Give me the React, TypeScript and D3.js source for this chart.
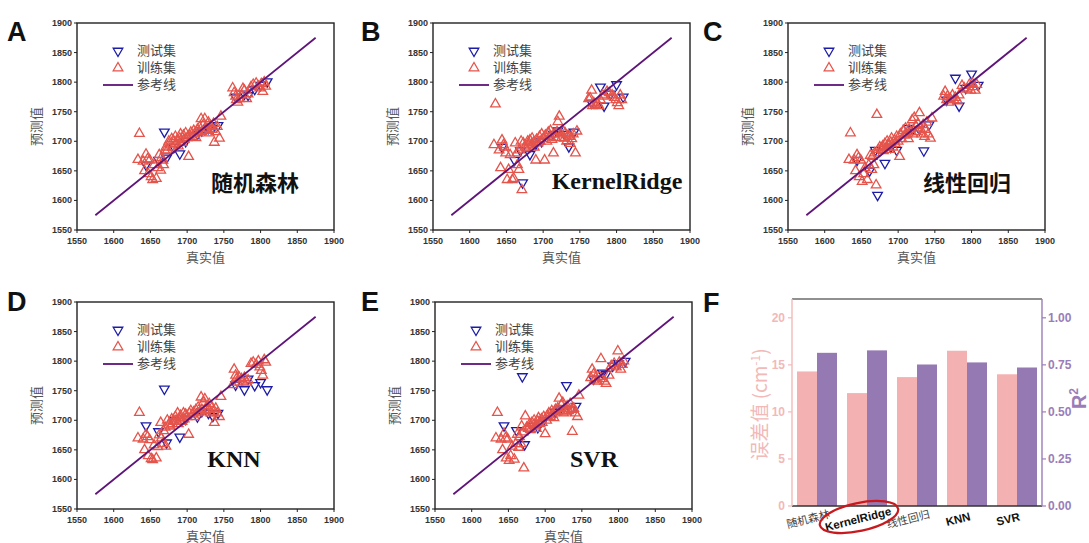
import React from "react";
import * as d3 from "d3";

// ---------- DATA ----------
const trueTrain = [
  1633, 1635, 1640, 1642, 1644, 1646, 1647, 1649, 1651, 1653, 1655, 1658, 1660, 1662, 1664, 1665, 1667, 1668, 1670, 1671, 1673, 1675,
  1677, 1679, 1680, 1682, 1684, 1685, 1687, 1688, 1690, 1691, 1693, 1695, 1696, 1698, 1700, 1702, 1703, 1705, 1707, 1709, 1710, 1712,
  1714, 1715, 1717, 1719, 1720, 1722, 1724, 1725, 1727, 1729, 1730, 1732, 1734, 1736, 1737, 1739, 1741, 1744, 1746,
  1762, 1764, 1766, 1767, 1769, 1771, 1774, 1776, 1778, 1781, 1783, 1787, 1790, 1794, 1797, 1799, 1801, 1803, 1805, 1807,
];
const trainPredRF = [
  1669, 1713, 1666, 1650, 1678, 1670, 1645, 1668, 1640, 1635, 1660, 1637, 1655, 1677, 1651, 1672, 1668, 1660, 1684, 1690, 1685, 1700,
  1695, 1704, 1690, 1700, 1708, 1696, 1702, 1692, 1705, 1712, 1698, 1710, 1703, 1714, 1706, 1674, 1710, 1715, 1708, 1718, 1712, 1706,
  1720, 1714, 1724, 1738, 1716, 1728, 1738, 1718, 1722, 1732, 1714, 1726, 1720, 1730, 1698, 1716, 1725, 1705, 1742,
  1790, 1782, 1776, 1770, 1766, 1772, 1778, 1789, 1786, 1772, 1780, 1792, 1796, 1798, 1793, 1790, 1797, 1784, 1800, 1793,
];
const trainPredKR = [
  1694, 1763, 1685, 1655, 1702, 1694, 1690, 1680, 1635, 1652, 1677, 1635, 1637, 1697, 1680, 1660, 1652, 1685, 1700, 1618, 1697, 1690,
  1688, 1700, 1693, 1702, 1695, 1705, 1698, 1690, 1668, 1703, 1697, 1708, 1700, 1712, 1704, 1668, 1710, 1700, 1715, 1708, 1718, 1703,
  1680, 1712, 1706, 1716, 1733, 1742, 1712, 1706, 1718, 1705, 1714, 1700, 1710, 1708, 1696, 1704, 1712, 1680, 1717,
  1772, 1773, 1786, 1760, 1765, 1762, 1764, 1760, 1770, 1778, 1776, 1784, 1782, 1778, 1774, 1770, 1765, 1760, 1778, 1770,
];
const trainPredLR = [
  1669, 1714, 1668, 1650, 1677, 1672, 1640, 1668, 1632, 1645, 1655, 1635, 1660, 1676, 1652, 1674, 1660, 1680, 1626, 1745, 1686, 1690,
  1688, 1692, 1684, 1696, 1690, 1700, 1694, 1686, 1698, 1705, 1690, 1702, 1696, 1708, 1700, 1674, 1712, 1704, 1718, 1710, 1722, 1712,
  1704, 1720, 1716, 1736, 1712, 1740, 1726, 1716, 1730, 1748, 1722, 1712, 1728, 1708, 1720, 1732, 1712, 1705, 1739,
  1776, 1784, 1770, 1776, 1766, 1772, 1778, 1770, 1774, 1768, 1778, 1794, 1790, 1788, 1796, 1786, 1798, 1792, 1786, 1796,
];
const trainPredKNN = [
  1670, 1713, 1668, 1650, 1676, 1672, 1640, 1667, 1635, 1633, 1658, 1636, 1655, 1675, 1696, 1670, 1660, 1682, 1688, 1656, 1700, 1692,
  1690, 1702, 1694, 1698, 1706, 1700, 1712, 1694, 1704, 1708, 1698, 1712, 1702, 1710, 1706, 1676, 1712, 1716, 1710, 1714, 1706, 1718,
  1712, 1722, 1714, 1739, 1718, 1730, 1736, 1716, 1724, 1718, 1728, 1712, 1722, 1714, 1696, 1720, 1712, 1706, 1740,
  1760, 1786, 1776, 1770, 1764, 1772, 1770, 1766, 1772, 1764, 1768, 1796, 1798, 1794, 1800, 1790, 1784, 1776, 1802, 1798,
];
const trainPredSVR = [
  1670, 1713, 1668, 1650, 1678, 1670, 1636, 1668, 1632, 1640, 1656, 1634, 1660, 1676, 1654, 1672, 1660, 1690, 1680, 1619, 1707, 1688,
  1686, 1694, 1684, 1696, 1692, 1700, 1690, 1686, 1698, 1704, 1694, 1702, 1696, 1706, 1677, 1700, 1708, 1712, 1706, 1716, 1710, 1704,
  1718, 1714, 1720, 1737, 1716, 1726, 1730, 1712, 1720, 1714, 1724, 1716, 1728, 1718, 1681, 1720, 1712, 1706, 1742,
  1772, 1786, 1778, 1768, 1772, 1766, 1774, 1804, 1770, 1766, 1762, 1776, 1792, 1796, 1790, 1817, 1798, 1786, 1794, 1800,
];

const trueTest = [1644, 1661, 1669, 1672, 1682, 1690, 1698, 1714, 1720, 1729, 1735, 1742, 1766, 1778, 1783, 1792, 1800, 1809];
const testPredRF = [1660, 1668, 1716, 1672, 1690, 1679, 1700, 1712, 1718, 1722, 1722, 1727, 1775, 1780, 1778, 1788, 1795, 1801];
const testPredKR = [1690, 1668, 1684, 1630, 1678, 1695, 1700, 1712, 1718, 1712, 1691, 1716, 1765, 1792, 1760, 1780, 1796, 1775];
const testPredLR = [1668, 1650, 1685, 1609, 1663, 1690, 1685, 1722, 1720, 1720, 1684, 1728, 1770, 1807, 1760, 1790, 1814, 1795];
const testPredKNN = [1691, 1681, 1753, 1662, 1700, 1672, 1702, 1706, 1715, 1712, 1707, 1712, 1760, 1752, 1770, 1759, 1764, 1752];
const testPredSVR = [1691, 1683, 1774, 1659, 1690, 1688, 1700, 1714, 1718, 1759, 1718, 1724, 1770, 1780, 1778, 1792, 1796, 1800];

const axisTicks = [1550, 1600, 1650, 1700, 1750, 1800, 1850, 1900];
const refLine = [1575, 1875];
const legendLabels = ["测试集", "训练集", "参考线"];

const barCategories = ["随机森林", "KernelRidge", "线性回归", "KNN", "SVR"];
const errorValues = [14.3, 12.0, 13.7, 16.5, 14.0];
const r2Values = [0.814, 0.827, 0.752, 0.763, 0.736];
const errorTicks = [0, 5, 10, 15, 20];
const r2Ticks = [0, 0.25, 0.5, 0.75, 1.0];

// ---------- STYLE ----------
const TRAIN_COLOR = "#E5544B";
const TEST_COLOR = "#1C1CA8";
const LINE_COLOR = "#5E1478";
const PINK = "#F4B1B1";
const PURPLE = "#9579B3";
const PINK_TEXT = "#F2B9B9";
const PURPLE_TEXT = "#9A7DB8";
const CJK = "'Noto Sans CJK SC', sans-serif";
const SANS = "'Liberation Sans', Arial, sans-serif";
const SERIF = "'Liberation Serif', 'Times New Roman', serif";

type PanelProps = {
  x0: number; x1: number; y0: number; y1: number;
  letter: string; letterX: number; letterY: number;
  label: string; labelFont: string; labelDx: number; labelDy: number;
  trainPred: number[]; testPred: number[];
};

const triUp = d3.symbol(d3.symbolTriangle, 40)() as string;

function ScatterPanel(p: PanelProps) {
  const xs = d3.scaleLinear().domain([1550, 1900]).range([p.x0, p.x1]);
  const ys = d3.scaleLinear().domain([1550, 1900]).range([p.y1, p.y0]);
  const w = p.x1 - p.x0;
  const h = p.y1 - p.y0;
  return (
    <g>
      <text x={p.letterX} y={p.letterY} fontFamily={SANS} fontWeight="bold" fontSize={27} fill="#111">{p.letter}</text>
      {trueTest.map((t, i) => (
        <path key={"te" + i} d={triUp} transform={`translate(${xs(t)},${ys(p.testPred[i])}) rotate(180)`}
          fill="none" stroke={TEST_COLOR} strokeWidth={1.3} />
      ))}
      {trueTrain.map((t, i) => (
        <path key={"tr" + i} d={triUp} transform={`translate(${xs(t)},${ys(p.trainPred[i])})`}
          fill="none" stroke={TRAIN_COLOR} strokeWidth={1.3} />
      ))}
      <line x1={xs(refLine[0])} y1={ys(refLine[0])} x2={xs(refLine[1])} y2={ys(refLine[1])} stroke={LINE_COLOR} strokeWidth={1.8} />
      <rect x={p.x0} y={p.y0} width={w} height={h} fill="none" stroke="#222" strokeWidth={1.4} />
      {axisTicks.map((t) => (
        <g key={"xt" + t}>
          <line x1={xs(t)} x2={xs(t)} y1={p.y1} y2={p.y1 + 3} stroke="#222" strokeWidth={1} />
          <text x={xs(t)} y={p.y1 + 14} textAnchor="middle" fontFamily={SANS} fontWeight="bold" fontSize={9} fill="#333">{t}</text>
          <line x1={p.x0 - 3} x2={p.x0} y1={ys(t)} y2={ys(t)} stroke="#222" strokeWidth={1} />
          <text x={p.x0 - 5} y={ys(t) + 3} textAnchor="end" fontFamily={SANS} fontWeight="bold" fontSize={9} fill="#333">{t}</text>
        </g>
      ))}
      <text x={(p.x0 + p.x1) / 2} y={p.y1 + 32} textAnchor="middle" fontFamily={CJK} fontSize={13} fill="#555">真实值</text>
      <text transform={`translate(${p.x0 - 36},${(p.y0 + p.y1) / 2}) rotate(-90)`} textAnchor="middle" fontFamily={CJK} fontSize={13} fill="#555">预测值</text>
      <path d={triUp} transform={`translate(${p.x0 + 41},${p.y0 + 28}) rotate(180)`} fill="none" stroke={TEST_COLOR} strokeWidth={1.3} />
      <text x={p.x0 + 60} y={p.y0 + 32} fontFamily={CJK} fontSize={13} fill="#444">{legendLabels[0]}</text>
      <path d={triUp} transform={`translate(${p.x0 + 41},${p.y0 + 45})`} fill="none" stroke={TRAIN_COLOR} strokeWidth={1.3} />
      <text x={p.x0 + 60} y={p.y0 + 49} fontFamily={CJK} fontSize={13} fill="#444">{legendLabels[1]}</text>
      <line x1={p.x0 + 26} x2={p.x0 + 56} y1={p.y0 + 62} y2={p.y0 + 62} stroke={LINE_COLOR} strokeWidth={1.8} />
      <text x={p.x0 + 60} y={p.y0 + 66} fontFamily={CJK} fontSize={13} fill="#444">{legendLabels[2]}</text>
      <text x={p.x0 + p.labelDx} y={p.y0 + p.labelDy} textAnchor="middle" fontFamily={p.labelFont}
        fontWeight="bold" fontSize={p.labelFont === CJK ? 22 : 24} fill="#111">{p.label}</text>
    </g>
  );
}

function BarPanel() {
  const x0 = 792, x1 = 1042, y0 = 299, y1 = 506;
  const xb = d3.scaleBand<string>().domain(barCategories).range([x0, x1]).paddingInner(0.2).paddingOuter(0.1);
  const yl = d3.scaleLinear().domain([0, 22]).range([y1, y0]);
  const yr = d3.scaleLinear().domain([0, 1.1]).range([y1, y0]);
  const bw = xb.bandwidth() / 2;
  const krx = xb("KernelRidge")! + xb.bandwidth() / 2 - 8;
  return (
    <g>
      <text x={703} y={312} fontFamily={SANS} fontWeight="bold" fontSize={27} fill="#111">F</text>
      {barCategories.map((c, i) => (
        <g key={c}>
          <rect x={xb(c)!} y={yl(errorValues[i])} width={bw} height={y1 - yl(errorValues[i])} fill={PINK} />
          <rect x={xb(c)! + bw} y={yr(r2Values[i])} width={bw} height={y1 - yr(r2Values[i])} fill={PURPLE} />
        </g>
      ))}
      <line x1={x0} x2={x1} y1={y0} y2={y0} stroke="#222" strokeWidth={1.2} />
      <line x1={x0} x2={x1} y1={y1} y2={y1} stroke="#333" strokeWidth={1.4} />
      <line x1={x0} x2={x0} y1={y0} y2={y1} stroke={PINK_TEXT} strokeWidth={1.4} />
      <line x1={x1} x2={x1} y1={y0} y2={y1} stroke={PURPLE_TEXT} strokeWidth={1.4} />
      {errorTicks.map((t) => (
        <g key={"el" + t}>
          <line x1={x0 - 4} x2={x0} y1={yl(t)} y2={yl(t)} stroke={PINK_TEXT} strokeWidth={1.2} />
          <text x={x0 - 7} y={yl(t) + 4} textAnchor="end" fontFamily={SANS} fontWeight="bold" fontSize={12} fill={PINK_TEXT}>{t}</text>
        </g>
      ))}
      {r2Ticks.map((t) => (
        <g key={"rt" + t}>
          <line x1={x1} x2={x1 + 4} y1={yr(t)} y2={yr(t)} stroke={PURPLE_TEXT} strokeWidth={1.2} />
          <text x={x1 + 6} y={yr(t) + 4} fontFamily={SANS} fontWeight="bold" fontSize={12} fill={PURPLE_TEXT}>{t.toFixed(2)}</text>
        </g>
      ))}
      <text transform={`translate(767,${(y0 + y1) / 2 + 2}) rotate(-90)`} textAnchor="middle" fontFamily={CJK} fontSize={19} fill={PINK_TEXT}>
        误差值 (cm<tspan dy={-7} fontSize={12}>-1</tspan><tspan dy={7}>)</tspan>
      </text>
      <text transform={`translate(1086,${(y0 + y1) / 2 - 4}) rotate(-90)`} textAnchor="middle" fontFamily={SANS} fontWeight="bold" fontSize={20} fill={PURPLE_TEXT}>
        R<tspan dy={-8} fontSize={12}>2</tspan>
      </text>
      {barCategories.map((c, i) => {
        const cx = xb(c)! + xb.bandwidth() / 2 - 8;
        const isCJK = i === 0 || i === 2;
        return (
          <text key={"xl" + c} transform={`translate(${cx},${y1 + 17}) rotate(-14)`} textAnchor="middle"
            fontFamily={isCJK ? CJK : SANS} fontWeight={isCJK ? "normal" : "bold"} fontSize={isCJK ? 11 : 11.5}
            fill={isCJK ? "#444" : "#111"}>{c}</text>
        );
      })}
      <ellipse cx={krx} cy={517} rx={40} ry={14} transform={`rotate(-12, ${krx}, 517)`}
        fill="none" stroke="#C8191E" strokeWidth={2.2} />
    </g>
  );
}

export default function App() {
  const panels: PanelProps[] = [
    { x0: 77, x1: 334, y0: 23, y1: 230, letter: "A", letterX: 7, letterY: 41, label: "随机森林", labelFont: CJK, labelDx: 178, labelDy: 168, trainPred: trainPredRF, testPred: testPredRF },
    { x0: 433, x1: 690, y0: 23, y1: 230, letter: "B", letterX: 361, letterY: 41, label: "KernelRidge", labelFont: SERIF, labelDx: 184, labelDy: 166, trainPred: trainPredKR, testPred: testPredKR },
    { x0: 788, x1: 1045, y0: 23, y1: 230, letter: "C", letterX: 703, letterY: 41, label: "线性回归", labelFont: CJK, labelDx: 179, labelDy: 168, trainPred: trainPredLR, testPred: testPredLR },
    { x0: 77, x1: 334, y0: 302, y1: 509, letter: "D", letterX: 7, letterY: 311, label: "KNN", labelFont: SERIF, labelDx: 157, labelDy: 165, trainPred: trainPredKNN, testPred: testPredKNN },
    { x0: 435, x1: 692, y0: 302, y1: 509, letter: "E", letterX: 361, letterY: 311, label: "SVR", labelFont: SERIF, labelDx: 159, labelDy: 165, trainPred: trainPredSVR, testPred: testPredSVR },
  ];
  return (
    <svg width={1089} height={543} style={{ position: "absolute", left: 0, top: 0, background: "#fff" }}>
      <rect x={0} y={0} width={1089} height={543} fill="#fff" />
      {panels.map((p) => <ScatterPanel key={p.letter} {...p} />)}
      <BarPanel />
    </svg>
  );
}
